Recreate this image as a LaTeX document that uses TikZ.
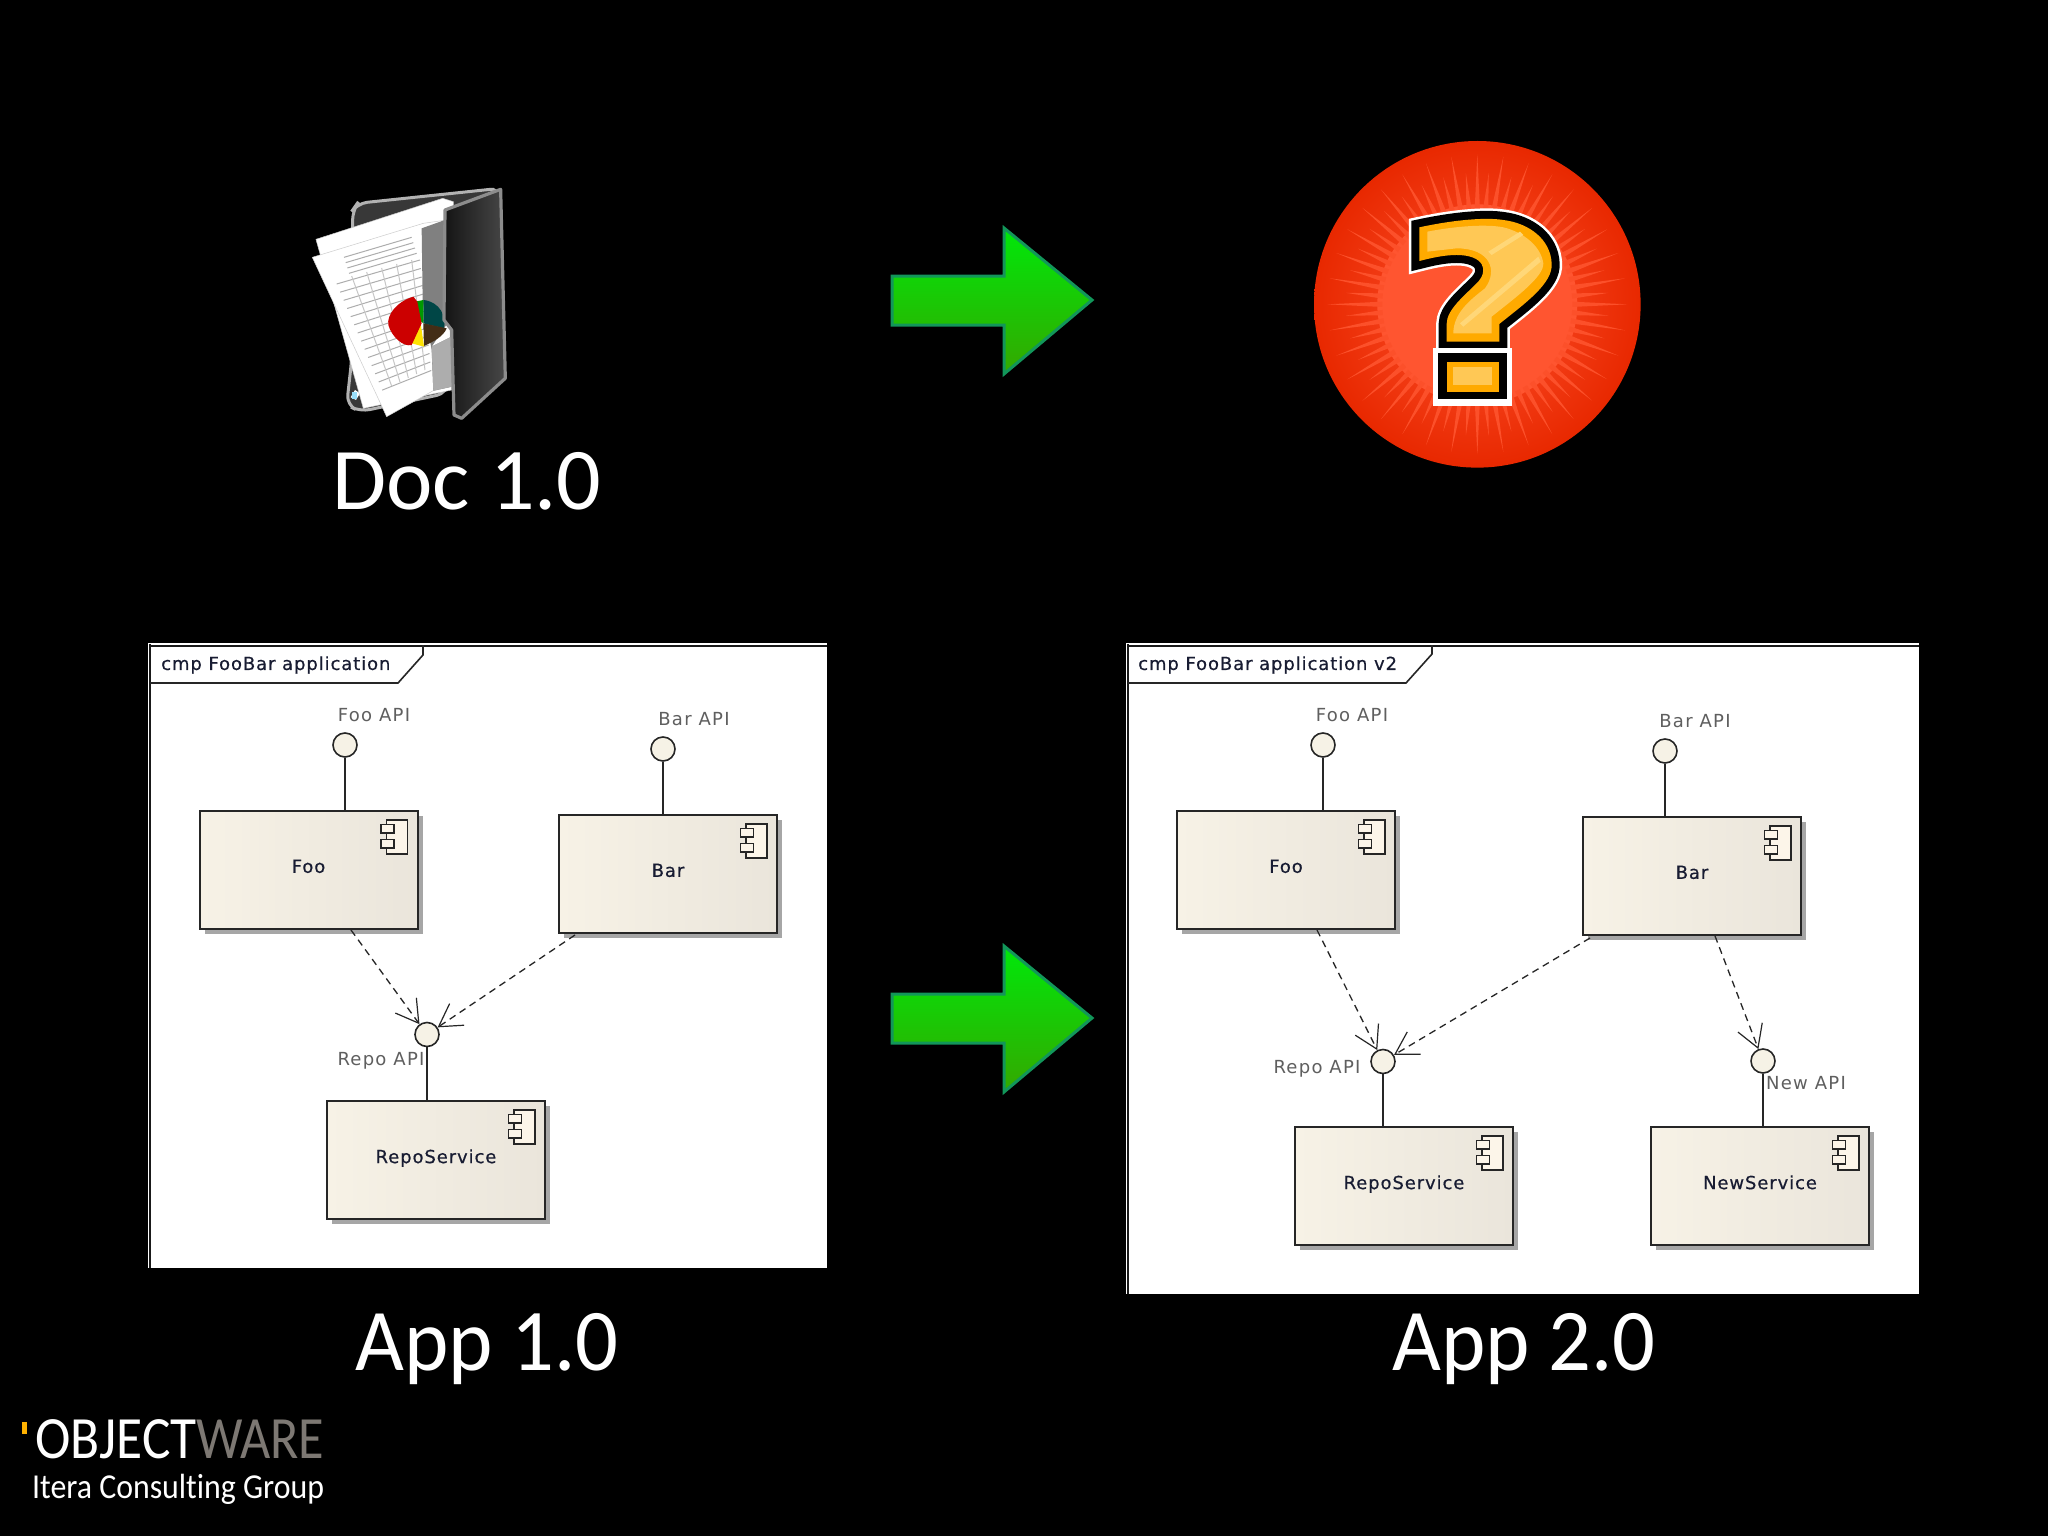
\documentclass[tikz,border=0pt]{standalone}
\usepackage{fontspec}
\usetikzlibrary{shadows,arrows.meta,calc}
\setmainfont{Carlito}
\newfontfamily\umlf[LetterSpace=7]{DejaVu Sans}
\newfontfamily\umlb[LetterSpace=5,FakeBold=0.5]{DejaVu Sans}
\newfontfamily\logof[Ligatures=NoCommon]{Carlito}
\definecolor{umlink}{RGB}{24,28,50}
\definecolor{umlgray}{RGB}{95,95,95}
\definecolor{boxa}{RGB}{247,242,230}
\definecolor{boxb}{RGB}{252,245,233}
\definecolor{boxc}{RGB}{234,229,219}
\definecolor{circ}{RGB}{246,242,230}
\definecolor{arrowedge}{RGB}{18,150,90}
\definecolor{arrowtop}{RGB}{0,232,10}
\definecolor{arrowbot}{RGB}{52,168,0}
\definecolor{qorange}{RGB}{255,170,0}
\definecolor{qlight}{RGB}{255,200,85}
\definecolor{qlighter}{RGB}{255,215,120}
\definecolor{redin}{RGB}{255,85,48}
\definecolor{redout}{RGB}{232,40,0}
\definecolor{wgray}{RGB}{125,120,115}
\tikzset{
  x=1pt,y=-1pt,
  compbox/.style={draw=black!85,line width=2pt,minimum width=218pt,minimum height=118pt,inner sep=0pt,
    left color=boxa,middle color=boxb,right color=boxc,text=umlink,
    drop shadow={shadow xshift=5pt,shadow yshift=-5pt,fill=black!35,opacity=1},
    font=\umlb\fontsize{18}{20}\selectfont},
  iface/.style={circle,draw=black!85,line width=1.6pt,fill=circ,minimum size=24pt,inner sep=0pt},
  ifacelabel/.style={text=umlgray,inner sep=0pt,font=\umlf\fontsize{18}{20}\selectfont},
  tabtext/.style={text=umlink,anchor=west,inner sep=0pt,font=\umlb\fontsize{18}{20}\selectfont},
  bigtext/.style={text=white,inner sep=0pt,anchor=base,font=\fontsize{88}{100}\selectfont},
  lollipop/.style={draw=black!85,line width=1.6pt},
  depends/.style={draw=black!85,line width=1.3pt,dash pattern=on 7pt off 5pt,
    -{Straight Barb[length=22pt,width=26pt,line width=1.2pt,sep=0pt]}},
  greenarrow/.style={top color=arrowtop,bottom color=arrowbot,draw=arrowedge,line width=3pt},
  sheet/.style={draw=black!20,line width=.5pt,fill=white},
  grid line/.style={draw=black!32,line width=1pt}
}
\newcommand{\compicon}[1]{%
  \draw[black!85,line width=1.9pt,fill=boxb] ($(#1.north east)+(-32,10)$) rectangle ($(#1.north east)+(-11,44)$);
  \draw[black!85,line width=1.9pt,fill=boxb] ($(#1.north east)+(-37.5,14.5)$) rectangle ($(#1.north east)+(-24.5,23)$);
  \draw[black!85,line width=1.9pt,fill=boxb] ($(#1.north east)+(-37.5,29.5)$) rectangle ($(#1.north east)+(-24.5,38)$);
}
\newcommand{\labelled}[1]{\raisebox{7.5pt}{#1}}
\begin{document}
\begin{tikzpicture}
\useasboundingbox (0,0) rectangle (2048,1536);
\fill[black] (0,0) rectangle (2048,1536);

% ---------- folder icon
\begin{scope}[shift={(280,160)},x=.3333pt,y=-.3333pt]
  \draw[black!30,line width=3pt,fill=black!78,rounded corners=10pt] (218,150) -- (232,130) -- (660,85) -- (560,150) -- (500,700) -- (240,755) -- (200,735) -- (215,600) -- cycle;
  \fill[white] (225,690) -- (240,700) -- (228,720) -- (212,712) -- cycle;
  \fill[cyan!40] (215,697) rectangle (230,718);
  \draw[sheet] (108,238) -- (488,115) -- (520,125) -- (515,690) -- (250,745) -- cycle;
  \draw[sheet] (97,292) -- (430,190) -- (500,180) -- (515,680) -- (460,692) -- (320,770) -- cycle;
  \foreach \t in {0,...,13}{
    \draw[grid line] ({170+\t*10.5},{372+\t*24.5}) -- ({420+\t*2.6},{300+\t*25.5});
  }
  \foreach \t in {0,...,3}{
    \draw[grid line] ({192+\t*5},{292+\t*16}) -- ({395+\t*5},{232+\t*16});
  }
  \foreach \t in {1,...,5}{
    \draw[grid line,black!22] ({170+\t*45},{360-\t*12}) -- ({310+\t*25},{690-\t*12});
  }
  \fill[black!50] (425,205) -- (495,180) -- (502,490) -- (455,560) -- (515,530) -- (515,680) -- (460,692) -- (455,570) -- (428,420) -- cycle;
  \fill[black!32] (455,560) -- (515,530) -- (515,680) -- (460,692) -- cycle;
  \fill[black!45!teal] (430,420) .. controls (480,425) and (500,470) .. (492,505) -- (430,490) -- cycle;
  \fill[black!65!brown] (430,490) -- (500,505) .. controls (490,530) and (460,545) .. (432,558) -- cycle;
  \fill[green!60!black] (405,425) -- (430,420) -- (430,490) -- (418,480) -- cycle;
  \fill[yellow!85!orange] (395,550) -- (422,490) -- (432,560) -- cycle;
  \fill[red!80!black] (400,410) .. controls (350,425) and (320,465) .. (325,495) .. controls (335,530) and (370,562) .. (395,555) -- (425,490) -- (412,425) -- cycle;
  \shadedraw[left color=black!92,right color=black!72,draw=black!45,line width=3.2pt,line join=round] (495,150) -- (662,88) -- (676,655) -- (545,775) -- (522,765) -- (515,510) -- (492,480) -- cycle;
\end{scope}

% ---------- question badge
\begin{scope}[shift={(1290,120)},x=.3333pt,y=-.3333pt]
  \shade[inner color=redin,outer color=redout] (562,553) circle[radius=490*.3333pt];
  \fill[redin] (562,553) circle[radius=300*.3333pt];
  \foreach \a in {0,5,...,355}{
    \pgfmathsetmacro{\rr}{mod(\a,10)==0 ? 450 : 395}
    \fill[redin!88!redout] ({562+285*cos(\a-1.6)},{553+285*sin(\a-1.6)}) -- ({562+\rr*cos(\a)},{553+\rr*sin(\a)}) -- ({562+285*cos(\a+1.6)},{553+285*sin(\a+1.6)}) -- cycle;
  }
  \def\qpath{(388,322) .. controls (500,298) and (590,292) .. (640,300) .. controls (720,310) and (782,360) .. (785,430) .. controls (790,490) and (705,550) .. (628,612) -- (628,665) -- (470,665) -- (470,612) .. controls (470,570) and (520,530) .. (560,490) .. controls (600,450) and (580,405) .. (500,405) .. controls (460,405) and (420,415) .. (388,423) -- cycle}
  \draw[white,line width=21pt,miter limit=3] \qpath;
  \draw[black,line width=16pt,miter limit=3] \qpath;
  \fill[qorange] \qpath;
  \begin{scope}
    \clip \qpath;
    \fill[qlight] (412,335) .. controls (500,318) and (590,312) .. (640,322) .. controls (695,335) and (752,375) .. (760,430) .. controls (762,470) and (680,530) .. (605,590) -- (605,640) -- (490,640) .. controls (490,580) and (540,540) .. (585,505) .. controls (625,450) and (600,385) .. (500,385) -- (412,395) -- cycle;
    \fill[qlighter] (510,610) -- (745,410) -- (752,425) -- (520,620) -- cycle;
    \fill[qlighter] (595,395) -- (690,335) -- (700,345) -- (605,405) -- cycle;
  \end{scope}
  \fill[white] (430,685) rectangle (667,857);
  \fill[black] (443,698) rectangle (650,838);
  \fill[qorange] (470,725) rectangle (628,815);
  \fill[qlight] (490,740) rectangle (605,795);
\end{scope}

% ---------- green arrows
\shadedraw[greenarrow,miter limit=4] (892,276) -- (1004,276) -- (1004,228) -- (1092,300) -- (1004,374) -- (1004,325) -- (892,325) -- cycle;
\shadedraw[greenarrow,miter limit=4] (892,994) -- (1004,994) -- (1004,946) -- (1092,1018) -- (1004,1092) -- (1004,1043) -- (892,1043) -- cycle;

% ---------- big captions
\node[bigtext] (doc) at (467,509) {Doc 1.0};
\node[bigtext,xscale=.96] (app1) at (487,1370) {App 1.0};
\node[bigtext,xscale=.96] (app2) at (1524,1370) {App 2.0};

% ---------- diagram v1
\fill[white] (148,643) rectangle (827,1268);
\draw[black!90,line width=1.5pt] (149,646) -- (827,646);
\draw[black!90,line width=1.5pt] (150,644) -- (150,1268);
\draw[black!85,line width=1.6pt] (150,683) -- (398,683) -- (423,655) -- (423,645);
\node[tabtext] (tab1) at (161,665) {cmp FooBar application};

\node[compbox] (foo1) at (308.5,870) {\labelled{Foo}};
\node[compbox] (bar1) at (668,874) {\labelled{Bar}};
\node[compbox] (repo1) at (436,1160) {\labelled{RepoService}};
\compicon{foo1}\compicon{bar1}\compicon{repo1}
\node[iface] (fooapi1) at (345,745) {};
\node[iface] (barapi1) at (663,749) {};
\node[iface] (repoapi1) at (427,1034.5) {};
\node[ifacelabel] (fool1) at (374,715) {Foo API};
\node[ifacelabel] (barl1) at (694,719) {Bar API};
\node[ifacelabel] (repol1) at (381,1061) {Repo API};
\draw[lollipop] (fooapi1) -- (fooapi1 |- foo1.north);
\draw[lollipop] (barapi1) -- (barapi1 |- bar1.north);
\draw[lollipop] (repoapi1) -- (repoapi1 |- repo1.north);
\coordinate (foo1out) at (351,930);
\coordinate (bar1out) at (575,935);
\draw[depends] (foo1out) -- (repoapi1);
\draw[depends] (bar1out) -- (repoapi1);

% ---------- diagram v2
\fill[white] (1126,643) rectangle (1919,1294);
\draw[black!90,line width=1.5pt] (1127,646) -- (1919,646);
\draw[black!90,line width=1.5pt] (1128,644) -- (1128,1294);
\draw[black!85,line width=1.6pt] (1128,683) -- (1406,683) -- (1432,654) -- (1432,645);
\node[tabtext] (tab2) at (1138,665) {cmp FooBar application v2};

\node[compbox] (foo2) at (1286,870) {\labelled{Foo}};
\node[compbox] (bar2) at (1692,876) {\labelled{Bar}};
\node[compbox] (repo2) at (1404,1186) {\labelled{RepoService}};
\node[compbox] (new2) at (1760,1186) {\labelled{NewService}};
\compicon{foo2}\compicon{bar2}\compicon{repo2}\compicon{new2}
\node[iface] (fooapi2) at (1323,745) {};
\node[iface] (barapi2) at (1665,751) {};
\node[iface] (repoapi2) at (1383,1061.5) {};
\node[iface] (newapi2) at (1763,1061) {};
\node[ifacelabel] (fool2) at (1352,715.5) {Foo API};
\node[ifacelabel] (barl2) at (1695,721) {Bar API};
\node[ifacelabel] (repol2) at (1317,1069) {Repo API};
\node[ifacelabel] (newl2) at (1806,1083) {New API};
\draw[lollipop] (fooapi2) -- (fooapi2 |- foo2.north);
\draw[lollipop] (barapi2) -- (barapi2 |- bar2.north);
\draw[lollipop] (repoapi2) -- (repoapi2 |- repo2.north);
\draw[lollipop] (newapi2) -- (newapi2 |- new2.north);
\coordinate (foo2out) at (1317,930);
\coordinate (bar2outa) at (1590,938);
\coordinate (bar2outb) at (1715,936);
\draw[depends] (foo2out) -- (repoapi2);
\draw[depends] (bar2outa) -- (repoapi2);
\draw[depends] (bar2outb) -- (newapi2);

% ---------- logo
\fill[qorange!90!yellow] (22,1422) rectangle (27,1434);
\node[anchor=base west,inner sep=0pt,text=white,font=\logof\fontsize{60}{60}\selectfont,xscale=.89] (logoa) at (35,1458) {OBJECT};
\node[anchor=base west,inner sep=0pt,text=wgray,font=\logof\fontsize{60}{60}\selectfont,xscale=.87] (logob) at (196,1458) {WARE};
\node[anchor=base west,inner sep=0pt,text=white,font=\logof\fontsize{35}{36}\selectfont,xscale=.91] (logoc) at (32,1498) {Itera Consulting Group};
\end{tikzpicture}
\end{document}
